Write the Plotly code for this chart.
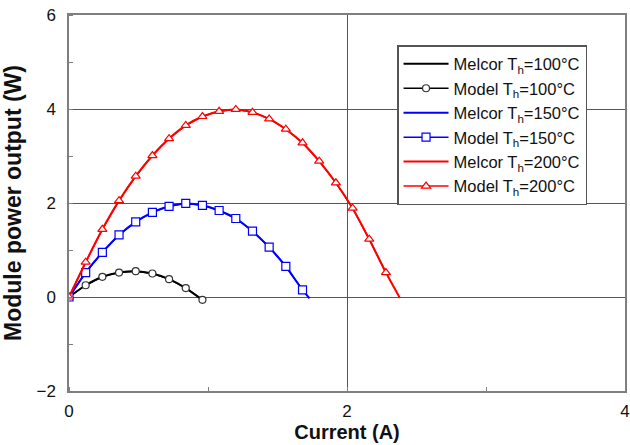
import plotly.graph_objects as go

# Current (A) at model points
current_100 = [0, 0.12, 0.24, 0.36, 0.48, 0.60, 0.72, 0.84, 0.96]
model_100 = [0, 0.25, 0.43, 0.52, 0.55, 0.50, 0.38, 0.19, -0.06]

current_150 = [0, 0.12, 0.24, 0.36, 0.48, 0.60, 0.72, 0.84, 0.96, 1.08, 1.20, 1.32, 1.44, 1.56, 1.68]
model_150 = [0, 0.52, 0.95, 1.32, 1.60, 1.80, 1.93, 1.99, 1.95, 1.84, 1.67, 1.40, 1.06, 0.65, 0.15]

current_200 = [0, 0.12, 0.24, 0.36, 0.48, 0.60, 0.72, 0.84, 0.96, 1.08, 1.20, 1.32, 1.44, 1.56, 1.68,
               1.80, 1.92, 2.04, 2.16, 2.28]
model_200 = [0, 0.74, 1.44, 2.05, 2.57, 3.01, 3.37, 3.65, 3.84, 3.95, 3.99, 3.93, 3.79, 3.57, 3.28,
             2.89, 2.43, 1.89, 1.23, 0.52]

# Melcor curves (model points plus their end point)
melcor_100_x = current_100
melcor_100_y = [0, 0.25, 0.43, 0.52, 0.55, 0.50, 0.38, 0.19, -0.06]
melcor_150_x = current_150 + [1.73]
melcor_150_y = model_150 + [-0.03]
melcor_200_x = current_200 + [2.38]
melcor_200_y = model_200 + [-0.02]

x_ticks = [0, 2, 4]
y_ticks = [-2, 0, 2, 4, 6]

BLACK = "#000000"
BLUE = "#0000ff"
RED = "#ff0000"
FONT = "Arial, Liberation Sans, sans-serif"

fig = go.Figure()

def melcor(x, y, color, name):
    fig.add_trace(go.Scatter(x=x, y=y, mode="lines", name=name,
                             line=dict(color=color, width=2, shape="spline", smoothing=0.6)))

def model(x, y, color, symbol, size, name):
    fig.add_trace(go.Scatter(x=x, y=y, mode="lines+markers", name=name,
                             line=dict(color=color, width=1.5),
                             marker=dict(symbol=symbol, size=size, color="white",
                                         line=dict(color=color if color != BLACK else "#333333", width=1.2))))

melcor(melcor_100_x, melcor_100_y, BLACK, "Melcor T<sub>h</sub>=100°C")
model(current_100, model_100, BLACK, "circle", 7, "Model T<sub>h</sub>=100°C")
melcor(melcor_150_x, melcor_150_y, BLUE, "Melcor T<sub>h</sub>=150°C")
model(current_150, model_150, BLUE, "square", 8, "Model T<sub>h</sub>=150°C")
melcor(melcor_200_x, melcor_200_y, RED, "Melcor T<sub>h</sub>=200°C")
model(current_200, model_200, RED, "triangle-up", 8, "Model T<sub>h</sub>=200°C")

axis_common = dict(
    automargin=False,
    showline=True, linecolor="#7f7f7f", linewidth=1.5, mirror=True,
    showgrid=True, gridcolor="#555555", gridwidth=1,
    zeroline=True, zerolinecolor="#555555", zerolinewidth=1,
    ticks="", tickfont=dict(family=FONT, size=17, color="#111111"),
    ticklabeloverflow="allow",
    minor=dict(ticks="inside", ticklen=4, tickcolor="#7f7f7f", dtick=1, showgrid=False),
)

fig.update_xaxes(range=[0, 4], tickvals=x_ticks, ticklabelstandoff=4, **axis_common,
                 title=dict(text="<b>Current (A)</b>", standoff=0,
                            font=dict(family=FONT, size=20, color="#111111")))
fig.update_yaxes(range=[-2, 6], tickvals=y_ticks, ticklabelstandoff=8, **axis_common,
                 title=dict(text="<b>Module power output (W)</b>", standoff=10,
                            font=dict(family=FONT, size=23, color="#111111")))

fig.update_layout(
    width=630, height=445,
    margin=dict(l=69, r=5, t=15, b=54),
    plot_bgcolor="white", paper_bgcolor="white",
    showlegend=True,
    legend=dict(x=0.59, y=0.92, xanchor="left", yanchor="top",
                bgcolor="white", bordercolor="#555555", borderwidth=1.5,
                font=dict(family=FONT, size=16.5, color="#111111"),
                tracegroupgap=0, itemwidth=45),
)

fig.write_html("out.html", config={"displayModeBar": False},
               post_script="document.body.style.margin='0';document.body.style.overflow='hidden';")
